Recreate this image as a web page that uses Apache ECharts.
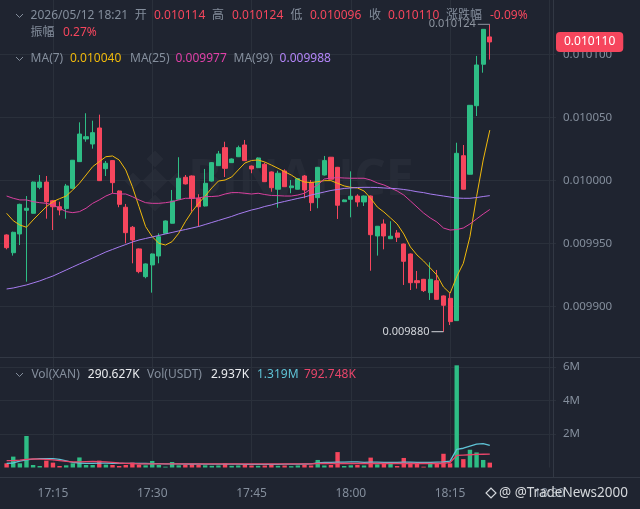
<!DOCTYPE html>
<html><head><meta charset="utf-8">
<script src="https://cdn.jsdelivr.net/npm/echarts@6/dist/echarts.min.js"></script>
<style>html,body{margin:0;padding:0;background:#1f2430;}#c{width:640px;height:509px;}</style>
</head><body><div id="c"></div>
<script>
// ---- categories (1-minute candles) ----
const leadSlots = ['17:07'];
const times = ['17:08','17:09','17:10','17:11','17:12','17:13','17:14','17:15','17:16','17:17','17:18','17:19','17:20','17:21','17:22','17:23','17:24','17:25','17:26','17:27','17:28','17:29','17:30','17:31','17:32','17:33','17:34','17:35','17:36','17:37','17:38','17:39','17:40','17:41','17:42','17:43','17:44','17:45','17:46','17:47','17:48','17:49','17:50','17:51','17:52','17:53','17:54','17:55','17:56','17:57','17:58','17:59','18:00','18:01','18:02','18:03','18:04','18:05','18:06','18:07','18:08','18:09','18:10','18:11','18:12','18:13','18:14','18:15','18:16','18:17','18:18','18:19','18:20','18:21'];
const tailSlots = ['18:22','18:23','18:24','18:25','18:26','18:27','18:28','18:29','18:30','18:31'];

// ---- OHLC ----
const opens = [0.0099568,0.0099427,0.0099576,0.0099764,0.0099740,0.0099946,0.0099988,0.0099840,0.0099792,0.0099777,
0.0099938,0.0100150,0.0100330,0.0100290,0.0100417,0.0100094,0.0100158,0.0099917,0.0099788,0.0099629,
0.0099457,0.0099237,0.0099330,0.0099401,0.0099581,0.0099661,0.0099851,0.0100026,0.0100036,0.0099859,
0.0099798,0.0099996,0.0100118,0.0100261,0.0100142,0.0100189,0.0100282,0.0100115,0.0100102,0.0100129,
0.0100068,0.0099931,0.0100076,0.0099943,0.0099931,0.0100036,0.0099986,0.0099864,0.0100044,0.0100185,
0.0100105,0.0099832,0.0099851,0.0099877,0.0099830,0.0099877,0.0099560,0.0099655,0.0099538,0.0099584,
0.0099496,0.0099417,0.0099205,0.0099216,0.0099110,0.0099205,0.0099084,0.0099065,0.0098888,0.0100197,
0.0100050,0.0100594,0.0100923,0.010114];
const closes = [0.0099467,0.0099589,0.0099811,0.0099780,0.0099988,0.0099988,0.0099832,0.0099792,0.0099766,0.0099957,
0.0100161,0.0100369,0.0100348,0.0100380,0.0099999,0.0100137,0.0099983,0.0099811,0.0099586,0.0099528,
0.0099277,0.0099338,0.0099417,0.0099554,0.0099679,0.0099838,0.0100018,0.0099973,0.0099859,0.0099792,
0.0099978,0.0100142,0.0100211,0.0100097,0.0100171,0.0100261,0.0100158,0.0100092,0.0100179,0.0099991,
0.0099943,0.0100058,0.0099951,0.0099957,0.0100015,0.0099925,0.0099824,0.0100105,0.0100158,0.0100010,
0.0099804,0.0099846,0.0099875,0.0099830,0.0099877,0.0099570,0.0099637,0.0099560,0.0099558,0.0099550,
0.0099359,0.0099189,0.0099189,0.0099126,0.0099216,0.0099057,0.0099010,0.0098880,0.0100216,0.0099931,
0.0100597,0.0100917,0.0101200,0.010110];
const lows = [0.0099454,0.0099404,0.0099488,0.0099197,0.0099738,0.0099931,0.0099697,0.0099607,0.0099724,0.0099697,
0.0099933,0.0100147,0.0100308,0.0100253,0.0099996,0.0100036,0.0099899,0.0099788,0.0099502,0.0099343,
0.0099264,0.0099224,0.0099110,0.0099343,0.0099580,0.0099659,0.0099849,0.0099969,0.0099753,0.0099634,
0.0099794,0.0099992,0.0100115,0.0100028,0.0100139,0.0100187,0.0100155,0.0100058,0.0100099,0.0099988,
0.0099911,0.0099784,0.0099949,0.0099899,0.0099929,0.0099859,0.0099758,0.0099780,0.0100040,0.0100008,
0.0099695,0.0099830,0.0099708,0.0099792,0.0099798,0.0099284,0.0099404,0.0099454,0.0099536,0.0099512,
0.0099171,0.0099131,0.0099142,0.0099115,0.0099052,0.0099056,0.0098800,0.0098853,0.0098885,0.0099929,
0.0100048,0.0100512,0.0100856,0.010096];
const highs = [0.0099573,0.0099594,0.0099816,0.0099877,0.0099992,0.0100044,0.0100036,0.0099846,0.0099832,0.0099973,
0.0100163,0.0100462,0.0100534,0.0100475,0.0100523,0.0100155,0.0100163,0.0099921,0.0099814,0.0099639,
0.0099461,0.0099342,0.0099421,0.0099581,0.0099683,0.0099925,0.0100185,0.0100044,0.0100040,0.0099891,
0.0100092,0.0100147,0.0100235,0.0100308,0.0100175,0.0100277,0.0100322,0.0100119,0.0100183,0.0100142,
0.0100072,0.0100078,0.0100089,0.0100004,0.0100020,0.0100044,0.0100004,0.0100108,0.0100195,0.0100187,
0.0100108,0.0099850,0.0100073,0.0099891,0.0099881,0.0099881,0.0099639,0.0099692,0.0099677,0.0099607,
0.0099500,0.0099421,0.0099282,0.0099219,0.0099351,0.0099290,0.0099088,0.0099105,0.0100300,0.0100282,
0.0100599,0.0100989,0.0101203,0.010124];

// ---- moving averages ----
const ma7 = [0.0099740,0.0099681,0.0099647,0.0099629,0.0099687,0.0099740,0.0099792,0.0099832,0.0099856,0.0099877,
0.0099925,0.0099978,0.0100044,0.0100110,0.0100150,0.0100189,0.0100195,0.0100163,0.0100084,0.0099951,
0.0099792,0.0099634,0.0099554,0.0099502,0.0099488,0.0099515,0.0099581,0.0099673,0.0099753,0.0099819,
0.0099877,0.0099941,0.0099996,0.0100004,0.0100028,0.0100084,0.0100139,0.0100159,0.0100163,0.0100147,
0.0100123,0.0100097,0.0100070,0.0100044,0.0100010,0.0099988,0.0099984,0.0099991,0.0099999,0.0099999,
0.0099978,0.0099957,0.0099946,0.0099941,0.0099917,0.0099859,0.0099790,0.0099750,0.0099703,0.0099655,
0.0099576,0.0099473,0.0099409,0.0099361,0.0099306,0.0099250,0.0099155,0.0099105,0.0099237,0.0099343,
0.0099554,0.0099872,0.0100163,0.0100400];
const ma25 = [0.0099877,0.0099859,0.0099846,0.0099846,0.0099832,0.0099824,0.0099819,0.0099806,0.0099780,0.0099753,
0.0099745,0.0099753,0.0099780,0.0099819,0.0099846,0.0099877,0.0099899,0.0099893,0.0099893,0.0099872,
0.0099846,0.0099824,0.0099819,0.0099819,0.0099824,0.0099832,0.0099846,0.0099859,0.0099859,0.0099861,
0.0099872,0.0099873,0.0099877,0.0099893,0.0099904,0.0099904,0.0099899,0.0099893,0.0099899,0.0099889,
0.0099881,0.0099880,0.0099877,0.0099877,0.0099885,0.0099899,0.0099933,0.0099965,0.0100012,0.0100020,
0.0100023,0.0100020,0.0100018,0.0100018,0.0100018,0.0100004,0.0099981,0.0099965,0.0099941,0.0099917,
0.0099885,0.0099838,0.0099790,0.0099742,0.0099703,0.0099671,0.0099623,0.0099607,0.0099611,0.0099623,
0.0099655,0.0099695,0.0099734,0.0099770];
const ma99 = [0.0099139,0.0099147,0.0099159,0.0099171,0.0099187,0.0099203,0.0099223,0.0099242,0.0099266,0.0099290,
0.0099314,0.0099338,0.0099361,0.0099385,0.0099409,0.0099433,0.0099453,0.0099473,0.0099492,0.0099512,
0.0099528,0.0099540,0.0099552,0.0099564,0.0099576,0.0099588,0.0099600,0.0099611,0.0099623,0.0099635,
0.0099651,0.0099667,0.0099683,0.0099699,0.0099715,0.0099734,0.0099750,0.0099766,0.0099778,0.0099794,
0.0099806,0.0099822,0.0099834,0.0099846,0.0099858,0.0099869,0.0099885,0.0099897,0.0099909,0.0099921,
0.0099929,0.0099937,0.0099941,0.0099945,0.0099946,0.0099946,0.0099945,0.0099941,0.0099938,0.0099935,
0.0099929,0.0099921,0.0099911,0.0099904,0.0099893,0.0099885,0.0099877,0.0099869,0.0099861,0.0099859,
0.0099859,0.0099865,0.0099873,0.0099880];

// ---- volume ----
const volumes = [250000,650000,250000,1880000,150000,90000,410000,290000,90000,130000,
250000,600000,150000,150000,410000,170000,150000,90000,150000,290000,
170000,130000,390000,150000,50000,330000,130000,150000,200000,150000,
130000,100000,120000,250000,100000,120000,150000,120000,100000,120000,
150000,100000,120000,80000,120000,150000,120000,450000,120000,150000,
920000,90000,130000,150000,120000,590000,190000,210000,210000,90000,
570000,300000,210000,50000,330000,210000,820000,250000,6100000,500000,
1060000,900000,450000,290627];
const volMaA = [250000,270000,380000,450000,500000,530000,530000,530000,490000,400000,
300000,270000,250000,250000,260000,260000,250000,250000,250000,250000,
240000,240000,230000,230000,220000,220000,220000,210000,210000,210000,
200000,200000,200000,200000,200000,200000,190000,190000,190000,190000,
190000,190000,200000,200000,200000,210000,220000,280000,300000,300000,
320000,320000,330000,330000,300000,320000,320000,300000,300000,300000,
320000,320000,300000,300000,300000,320000,330000,380000,1080000,1150000,
1280000,1400000,1430000,1319000];
const volMaB = [410000,410000,440000,480000,510000,500000,490000,450000,410000,370000,
330000,330000,350000,370000,350000,330000,300000,270000,250000,240000,
220000,220000,220000,220000,220000,220000,220000,220000,220000,220000,
220000,220000,220000,220000,220000,220000,220000,220000,220000,220000,
220000,220000,220000,220000,220000,220000,220000,240000,240000,240000,
240000,240000,240000,240000,240000,240000,240000,240000,240000,240000,
240000,240000,240000,240000,240000,240000,240000,300000,720000,740000,
760000,780000,790000,792748];

const priceNow = 0.010110;
const hiMark = {time:'18:21', price:0.010124, text:'0.010124'};
const loMark = {time:'18:14', price:0.009880, text:'0.009880'};

const GRAY = '#848e9c', RED = '#f6465d', GREEN = '#2ebd85', GRID = '#2a303b', SEP = '#323844';
const FONT = '"Noto Sans","Noto Sans CJK SC",sans-serif';

const cats = leadSlots.concat(times, tailSlots);
const pad = (arr) => [].concat(leadSlots.map(() => '-'), arr, tailSlots.map(() => '-'));
const candleData = pad(times.map((t, i) => [opens[i], closes[i], lows[i], highs[i]]));
const volData = pad(volumes.map((v, i) => ({value: v, itemStyle: {color: closes[i] >= opens[i] ? GREEN : RED}})));
const isQuarter = (idx, val) => { const m = +String(val).split(':')[1]; return m % 15 === 0; };

const header = [
 [30.6,16,'2026/05/12 18:21',GRAY],[134.7,16,'开',GRAY],[154,16,'0.010114',RED],[212,16,'高',GRAY],[232,16,'0.010124',RED],
 [290.6,16,'低',GRAY],[310,16,'0.010096',RED],[369,16,'收',GRAY],[388,16,'0.010110',RED],[446,16,'涨跌幅',GRAY],[490,16,'-0.09%',RED],
 [30.6,32.5,'振幅',GRAY],[63,32.5,'0.27%',RED],
 [30.6,59,'MA(7)',GRAY],[70,59,'0.010040','#f0b90b'],[130,59,'MA(25)',GRAY],[175.5,59,'0.009977','#e040a8'],[233.5,59,'MA(99)',GRAY],[279.6,59,'0.009988','#b385f8'],
 [31.4,375,'Vol(XAN)',GRAY],[87.8,375,'290.627K','#eaecef'],[147,375,'Vol(USDT)',GRAY],[211,375,'2.937K','#eaecef'],[257,375,'1.319M','#5fc3d6'],[304,375,'792.748K','#e8456a']
];
const graphics = [];
// watermark
graphics.push({type:'text', x:188, y:181, z:0, silent:true, style:{text:'BINANCE', fill:'rgba(255,255,255,0.035)', fontSize:50, fontWeight:'bold', fontFamily:'"Open Sans",sans-serif', verticalAlign:'middle'}});
[[155,181,9],[155,159,6],[155,203,6],[133,181,6],[177,181,6]].forEach(([x,y,s]) => graphics.push({type:'rect', x, y, rotation:Math.PI/4, z:0, silent:true, shape:{x:-s,y:-s,width:2*s,height:2*s}, style:{fill:'rgba(255,255,255,0.035)'}}));
// separators
graphics.push({type:'line', z:50, silent:true, shape:{x1:0,y1:357.5,x2:640,y2:357.5}, style:{stroke:SEP, lineWidth:1}});
graphics.push({type:'line', z:50, silent:true, shape:{x1:0,y1:477.5,x2:640,y2:477.5}, style:{stroke:SEP, lineWidth:1}});
graphics.push({type:'line', z:50, silent:true, shape:{x1:553.5,y1:0,x2:553.5,y2:477.5}, style:{stroke:SEP, lineWidth:1}});
// chevrons
[16,59,375].forEach(y => graphics.push({type:'polyline', z:60, silent:true, shape:{points:[[16,y-2],[19.5,y+1.5],[23,y-2]]}, style:{stroke:GRAY, lineWidth:1, fill:null}}));
header.forEach(([x,y,t,c]) => graphics.push({type:'text', x, y, z:60, silent:true, style:{text:t, fill:c, fontSize:12, fontFamily:FONT, verticalAlign:'middle'}}));
// footer tag
graphics.push({type:'rect', x:491, y:493, rotation:Math.PI/4, z:60, silent:true, shape:{x:-3.5,y:-3.5,width:7,height:7}, style:{fill:null, stroke:'#d5d8dc', lineWidth:1.2}});
graphics.push({type:'text', x:499, y:493, z:60, silent:true, style:{text:'@ @TradeNews2000', fill:'#d5d8dc', fontSize:13.5, fontFamily:FONT, verticalAlign:'middle'}});

const markLabel = (txt, color) => ({
  show:true, position:'left', distance:0,
  formatter: '{t|' + txt + '}{l|}',
  rich:{ t:{color:color, fontSize:11, fontFamily:FONT, padding:[0,2,0,0]}, l:{width:12, height:1, backgroundColor:color} }
});

const option = {
  backgroundColor:'#1f2430',
  animation:false,
  graphic: graphics,
  grid:[
    {left:-3.97, right:84, top:0, height:369.5},
    {left:-3.97, right:84, top:358, height:109.5}
  ],
  xAxis:[
    {type:'category', gridIndex:0, data:cats, boundaryGap:false, axisLine:{show:false}, axisTick:{show:false}, axisLabel:{show:false},
     splitLine:{show:true, interval:isQuarter, lineStyle:{color:GRID}}},
    {type:'category', gridIndex:1, data:cats, boundaryGap:false, offset:10, axisLine:{show:false}, axisTick:{show:false},
     axisLabel:{show:true, interval:isQuarter, color:GRAY, fontSize:12, fontFamily:FONT, margin:10},
     splitLine:{show:true, interval:isQuarter, lineStyle:{color:GRID}}}
  ],
  yAxis:[
    {type:'value', gridIndex:0, position:'right', min:0.00985, max:0.0101433, interval:0.00005,
     axisLine:{show:false}, axisTick:{show:false},
     axisLabel:{color:GRAY, fontSize:11.5, fontFamily:FONT, margin:7, showMinLabel:false, showMaxLabel:false, formatter:v => v.toFixed(6)},
     splitLine:{show:true, showMinLine:false, showMaxLine:false, lineStyle:{color:GRID}}},
    {type:'value', gridIndex:1, position:'right', min:0, max:6537000, interval:2000000,
     axisLine:{show:false}, axisTick:{show:false},
     axisLabel:{color:GRAY, fontSize:11.5, fontFamily:FONT, margin:7, showMinLabel:false, showMaxLabel:false, formatter:v => (v/1e6) + 'M'},
     splitLine:{show:true, showMinLine:false, showMaxLine:false, lineStyle:{color:GRID}}}
  ],
  series:[
    {type:'candlestick', xAxisIndex:0, yAxisIndex:0, data:candleData, barWidth:4.6, z:5,
     itemStyle:{color:GREEN, color0:RED, borderColor:GREEN, borderColor0:RED, borderWidth:1},
     markPoint:{silent:true, animation:false, symbol:'circle', symbolSize:0.01, z:20,
       data:[
         {coord:[hiMark.time, hiMark.price], label:markLabel(hiMark.text, '#8f96a1')},
         {coord:[loMark.time, loMark.price], label:markLabel(loMark.text, '#d3d6db')},
         {coord:[tailSlots[tailSlots.length-1], priceNow],
          label:{show:true, position:'right', distance:0, formatter:priceNow.toFixed(6), color:'#ffffff', backgroundColor:RED,
                 fontSize:12, fontFamily:FONT, padding:[4,8,4,8], borderRadius:4}}
       ]}},
    {type:'line', name:'MA7', xAxisIndex:0, yAxisIndex:0, data:pad(ma7), symbol:'none', lineStyle:{color:'#f0b90b', width:1}, z:6},
    {type:'line', name:'MA25', xAxisIndex:0, yAxisIndex:0, data:pad(ma25), symbol:'none', lineStyle:{color:'#d9409f', width:1}, z:6},
    {type:'line', name:'MA99', xAxisIndex:0, yAxisIndex:0, data:pad(ma99), symbol:'none', lineStyle:{color:'#a77cf0', width:1}, z:6},
    {type:'bar', xAxisIndex:1, yAxisIndex:1, data:volData, barWidth:4.4},
    {type:'line', xAxisIndex:1, yAxisIndex:1, data:pad(volMaA), symbol:'none', lineStyle:{color:'#5fc3d6', width:1.3}, z:6},
    {type:'line', xAxisIndex:1, yAxisIndex:1, data:pad(volMaB), symbol:'none', lineStyle:{color:'#e8456a', width:1.3}, z:6}
  ]
};
const chart = echarts.init(document.getElementById('c'));
chart.setOption(option);
</script></body></html>
